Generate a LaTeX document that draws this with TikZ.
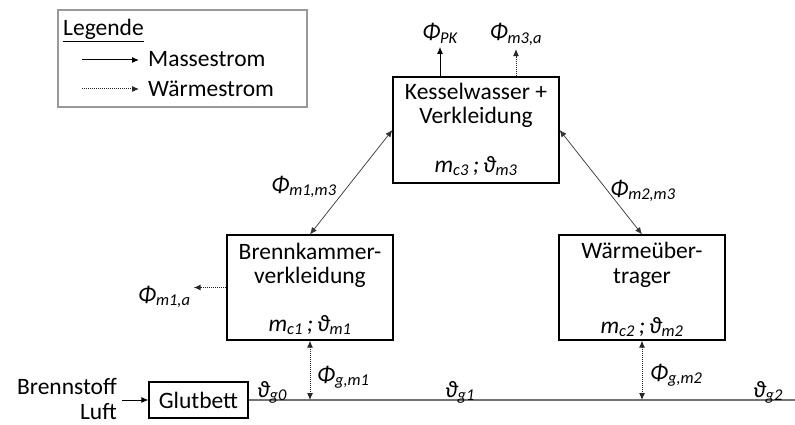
\documentclass[tikz,border=0pt]{standalone}
\usepackage{fontspec}
\setmainfont{Carlito}
\usetikzlibrary{arrows.meta}
\newcommand\symb[2]{\textit{#1\textsubscript{#2}}}
\tikzset{
  txt/.style={inner sep=0pt, font=\fontsize{23.5}{24}\selectfont, anchor=base},
  boxnode/.style={draw=black, line width=1.2pt, minimum width=166pt, minimum height=106pt, inner sep=0pt},
  legbox/.style={draw=black!40, line width=1.1pt, minimum width=249pt, minimum height=97pt, inner sep=0pt},
  tip/.style={-{Latex[length=7pt,width=6pt]}},
  mass/.style={tip, line width=1pt, draw=black},
  heat/.style={tip, line width=1pt, densely dotted, draw=black!85},
  diag/.style={{Latex[length=7pt,width=6pt]}-{Latex[length=7pt,width=6pt]}, line width=0.7pt, draw=black!80},
  mainline/.style={line width=1.5pt, draw=black!55}
}
\begin{document}
\begin{tikzpicture}[x=1pt,y=-1pt]
\useasboundingbox (0,0) rectangle (795,425);
% legend
\node[legbox] (leg) at (182.5,58.5) {};
\node[txt, anchor=base west] (legT) at (63,36) {\underline{Legende}};
\coordinate (ma) at (82,60);
\node[txt, anchor=base west] (massT) at (148,67) {Massestrom};
\draw[mass] (ma) -- ([xshift=-9pt]massT.west |- ma);
\coordinate (wa) at (82,89);
\node[txt, anchor=base west] (waermT) at (148,97) {Wärmestrom};
\draw[heat] (wa) -- ([xshift=-9pt]waermT.west |- wa);
% boxes
\node[boxnode] (kessel) at (476,130) {};
\node[boxnode, minimum height=105pt] (brenn) at (310,287.5) {};
\node[boxnode, minimum height=105pt] (waerme) at (642,287.5) {};
\node[boxnode, minimum width=99pt, minimum height=36pt] (glut) at (198.5,400) {};
% box texts
\node[txt] (k1) at (476,100) {Kesselwasser +};
\node[txt] (k2) at (476,124) {Verkleidung};
\node[txt] (k3) at (476,172) {\textit{m\textsubscript{c3}\,;\,ϑ\textsubscript{m3}}};
\node[txt] (b1) at (310,259) {Brennkammer-};
\node[txt] (b2) at (310,283) {verkleidung};
\node[txt] (b3) at (310,331) {\textit{m\textsubscript{c1}\,;\,ϑ\textsubscript{m1}}};
\node[txt] (w1) at (642,258) {Wärmeüber-};
\node[txt] (w2) at (642,283) {trager};
\node[txt] (w3) at (642,333) {\textit{m\textsubscript{c2}\,;\,ϑ\textsubscript{m2}}};
\node[txt] (g) at (198.5,408) {Glutbett};
% inputs
\node[txt, anchor=base east] (brst) at (117,394) {Brennstoff};
\node[txt, anchor=base east] (luft) at (117,419) {Luft};
\coordinate (inp) at (122,400);
\draw[mass] (inp) -- (glut.west);
% main line
\coordinate (lineend) at (795,400);
\draw[mainline] (glut.east) -- (lineend);
% labels
\node[txt] (pk) at (440,40) {\symb{Φ}{PK}};
\node[txt] (m3a) at (516,40) {\symb{Φ}{m3,a}};
\node[txt] (m1m3) at (304,192) {\symb{Φ}{m1,m3}};
\node[txt] (m2m3) at (643,196) {\symb{Φ}{m2,m3}};
\node[txt, anchor=base west] (m1a) at (138,302) {\symb{Φ}{m1,a}};
\node[txt, anchor=base west] (gm1) at (317,382) {\symb{Φ}{g,m1}};
\node[txt, anchor=base west] (gm2) at (650,380) {\symb{Φ}{g,m2}};
\node[txt, anchor=base west] (g0) at (257,397) {\symb{ϑ}{g0}};
\node[txt, anchor=base west] (g1) at (445,397) {\symb{ϑ}{g1}};
\node[txt, anchor=base west] (g2) at (753,397) {\symb{ϑ}{g2}};
% connectors
\draw[mass] (pk.south |- kessel.north) -- ([yshift=-3pt]pk.south);
\draw[heat] (m3a.south |- kessel.north) -- ([yshift=-3pt]m3a.south);
\draw[diag] (kessel.west) -- (brenn.north);
\draw[diag] (kessel.east) -- (waerme.north);
\draw[heat] (brenn.west) -- ([xshift=3pt]m1a.east |- brenn.west);
\draw[heat, {Latex[length=7pt,width=6pt]}-{Latex[length=7pt,width=6pt]}] (brenn.south) -- (brenn.south |- lineend);
\draw[heat, {Latex[length=7pt,width=6pt]}-{Latex[length=7pt,width=6pt]}] (waerme.south) -- (waerme.south |- lineend);
\end{tikzpicture}
\end{document}
